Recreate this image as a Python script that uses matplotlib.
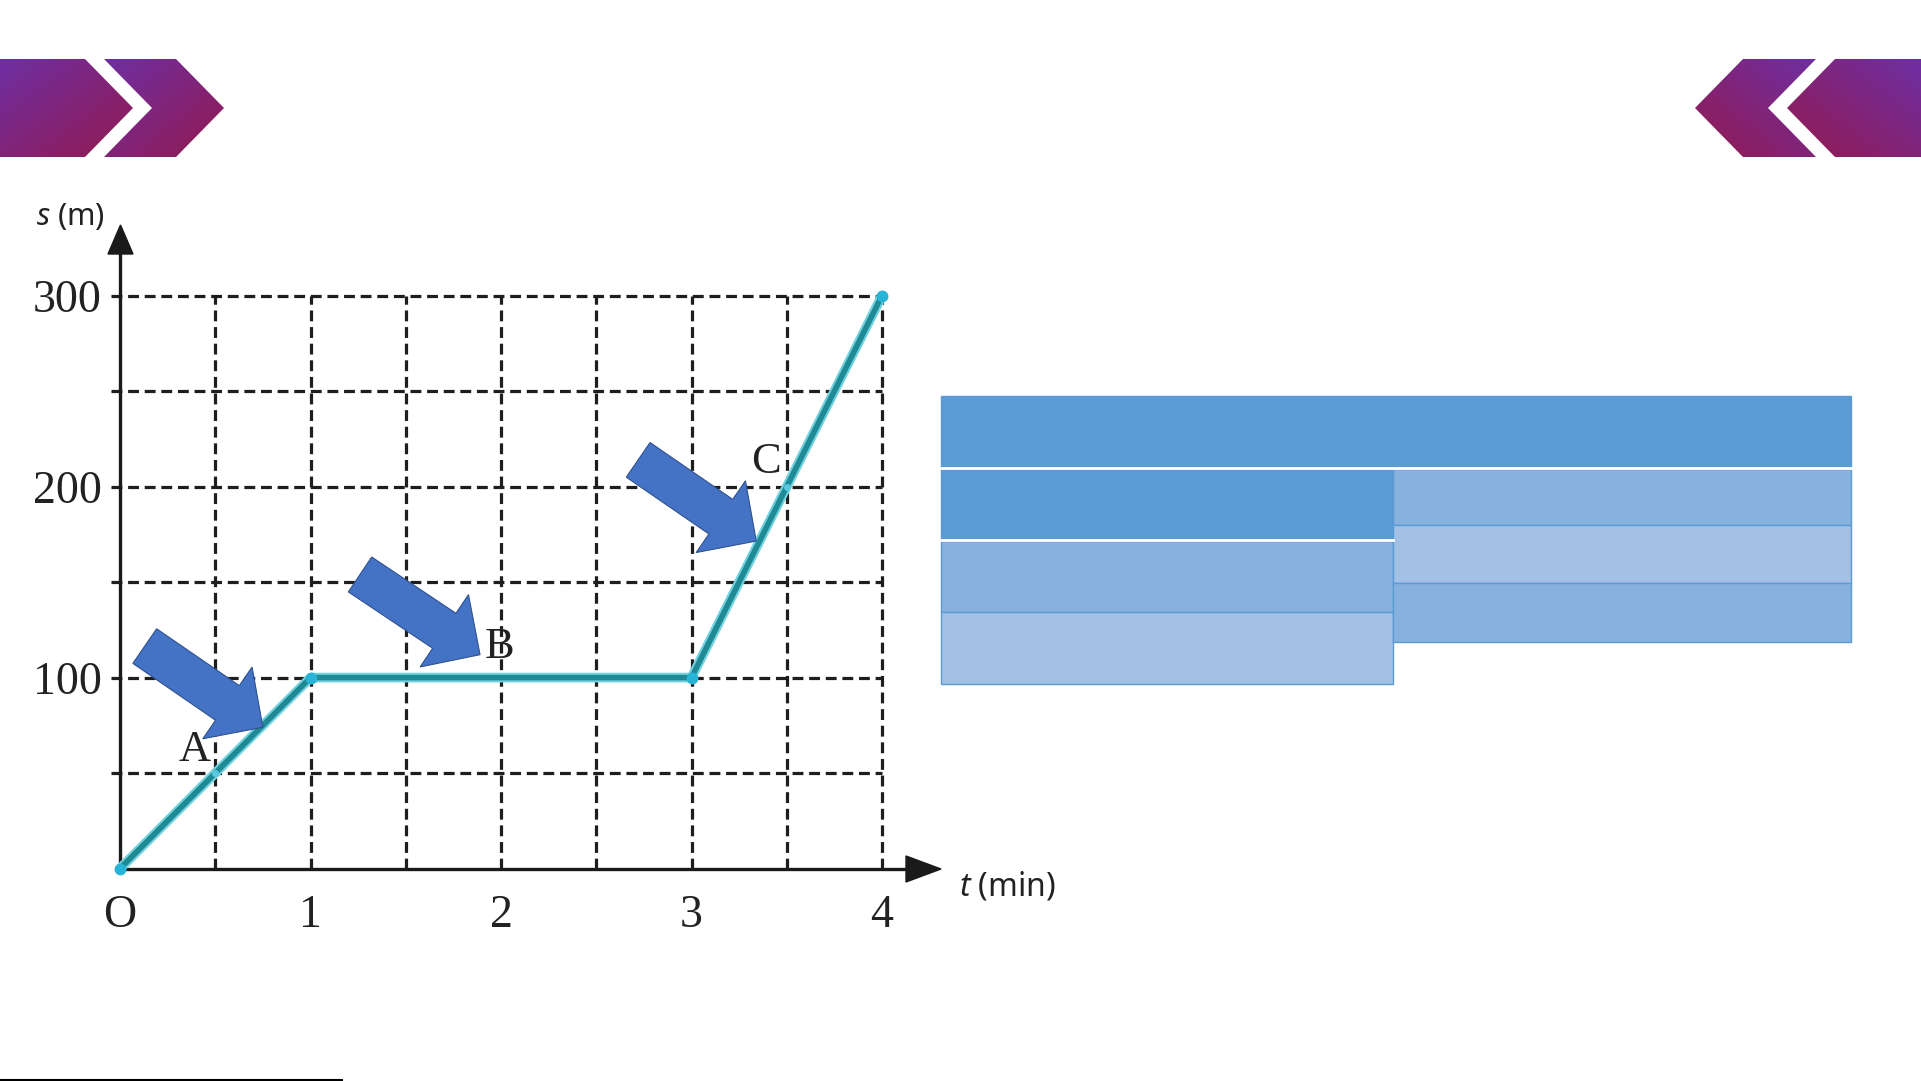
import numpy as np
import matplotlib
matplotlib.use('Agg')
import matplotlib.pyplot as plt
from matplotlib.patches import Polygon, Rectangle
from matplotlib.colors import LinearSegmentedColormap

plt.rcParams['mathtext.fontset'] = 'custom'
plt.rcParams['mathtext.rm'] = 'Noto Sans'
plt.rcParams['mathtext.it'] = 'Noto Sans:italic'

# data of the s-t graph
times = [0, 1, 3, 4]            # min
distances = [0, 100, 100, 300]  # m
marked_t = [0.5, 3.5]
marked_s = [50, 200]
x_ticks = [0, 1, 2, 3, 4]
x_tick_labels = ['O', '1', '2', '3', '4']
y_ticks = [100, 200, 300]
grid_t = [0.5, 1, 1.5, 2, 2.5, 3, 3.5, 4]
grid_s = [50, 100, 150, 200, 250, 300]

# point labels and the block arrows pointing at them (t, s)
point_names = ['A', 'B', 'C']
label_pos = [(0.39, 62), (1.99, 116), (3.39, 213)]
arrow_tail = [(0.13, 116.5), (1.26, 154), (2.72, 214)]
arrow_tip = [(0.75, 74), (1.89, 112), (3.34, 171.5)]

W, H = 1921, 1081
fig = plt.figure(figsize=(W / 100, H / 100), dpi=100)

bg = fig.add_axes([0, 0, 1, 1])
bg.axis('off')
bg.set_autoscale_on(False)
bg.set_xlim(0, W)
bg.set_ylim(H, 0)

# chevrons in the corners
cmap = LinearSegmentedColormap.from_list('chev', ['#6e2fa2', '#931a50'])


def chevron(pts, flip=False):
    poly = Polygon(pts, closed=True, facecolor='none', edgecolor='none')
    bg.add_patch(poly)
    xs = [p[0] for p in pts]
    ys = [p[1] for p in pts]
    gx, gy = np.meshgrid(np.linspace(0, 1, 200), np.linspace(0, 1, 100))
    g = ((1 - gx) + gy) / 2 if flip else (gx + gy) / 2
    im = bg.imshow(g, cmap=cmap, vmin=0, vmax=1, origin='upper', aspect='auto',
                   extent=(min(xs), max(xs), max(ys), min(ys)))
    im.set_clip_path(poly)


chevron([(0, 59), (85, 59), (133, 108), (85, 157), (0, 157)])
chevron([(104, 59), (176, 59), (224, 108), (176, 157), (104, 157), (152, 108)])
chevron([(1695, 108), (1743, 59), (1816, 59), (1768, 108), (1816, 157), (1743, 157)], flip=True)
chevron([(1787, 108), (1835, 59), (1921, 59), (1921, 157), (1835, 157)], flip=True)

# empty table on the right
dark, mid, light = '#5b9bd5', '#87b2dd', '#a3c0e5'
cells = [
    (941, 396, 1851, 467, dark),
    (941, 469, 1393, 539, dark),
    (941, 541, 1393, 612, mid),
    (941, 612, 1393, 684, light),
    (1393, 469, 1851, 525, mid),
    (1393, 525, 1851, 583, light),
    (1393, 583, 1851, 642, mid),
]
for x0, y0, x1, y1, c in cells:
    bg.add_patch(Rectangle((x0, y0), x1 - x0, y1 - y0, facecolor=c,
                           edgecolor=dark, linewidth=1))
bg.plot([941, 1851], [468, 468], color='white', lw=2)
bg.plot([941, 1393], [540, 540], color='white', lw=2)

bg.plot([0, 342], [1079.5, 1079.5], color='black', lw=1.5)

# the graph
X0, Y0 = 120, 868.6
UX, UY = 190.5, 1.91
ax = fig.add_axes([X0 / W, (H - Y0) / H, 4 * UX / W, 300 * UY / H])
ax.patch.set_alpha(0)
for sp in ax.spines.values():
    sp.set_visible(False)

grid_kw = dict(color='#1e1e1e', lw=2.3, linestyle=(0, (3.4, 1.8)), clip_on=False, zorder=1)
for t in grid_t:
    ax.plot([t, t], [0, 300], **grid_kw)
for s in grid_s:
    ax.plot([-0.045, 4], [s, s], **grid_kw)

ax.plot([0, 0], [0, 322], color='#1a1a1a', lw=2.4, clip_on=False, zorder=2)
ax.plot([0, 4.13], [0, 0], color='#1a1a1a', lw=2.4, clip_on=False, zorder=2)

ax.plot(times, distances, color='#74d2df', lw=7, clip_on=False, zorder=3,
        solid_capstyle='round')
ax.plot(times, distances, color='#1d8a95', lw=4, clip_on=False, zorder=4,
        marker='o', ms=7.5, mfc='#27b4d6', mec='#27b4d6')
ax.plot(marked_t, marked_s, 'o', ms=4, color='#5cc8e0', clip_on=False, zorder=5)

for name, (t, s) in zip(point_names, label_pos):
    ax.text(t, s, name, family='Liberation Serif', fontsize=32, color='#222222',
            ha='center', va='center', zorder=6)

ax.set_xlim(0, 4)
ax.set_ylim(0, 300)
ax.set_xticks(x_ticks, x_tick_labels, family='Liberation Serif', fontsize=33, color='#222222')
ax.set_yticks(y_ticks, [str(v) for v in y_ticks], family='Liberation Serif', fontsize=33,
              color='#222222')
ax.tick_params(axis='x', length=0, pad=19)
ax.tick_params(axis='y', length=0, pad=13)

# overlay for axis arrowheads, block arrows and axis titles
top = fig.add_axes([0, 0, 1, 1])
top.axis('off')
top.patch.set_alpha(0)
top.set_autoscale_on(False)
top.set_xlim(0, W)
top.set_ylim(H, 0)

top.add_patch(Polygon([(120.5, 225), (108, 254), (133, 254)], color='#1a1a1a'))
top.add_patch(Polygon([(941, 869), (906, 856), (906, 882)], color='#1a1a1a'))


def to_px(t, s):
    return np.array([X0 + t * UX, Y0 - s * UY])


def block_arrow(tail, tip, w=42, hw=87, hl=43):
    T = to_px(*tail)
    P = to_px(*tip)
    d = (P - T) / np.linalg.norm(P - T)
    n = np.array([-d[1], d[0]])
    B = P - d * hl
    pts = [T + n * w / 2, B + n * w / 2, B + n * hw / 2, P,
           B - n * hw / 2, B - n * w / 2, T - n * w / 2]
    top.add_patch(Polygon(pts, closed=True, facecolor='#4472c4',
                          edgecolor='#2f528f', linewidth=0.8, zorder=5))


for tail, tip in zip(arrow_tail, arrow_tip):
    block_arrow(tail, tip)

top.text(70, 216, r'$s$ (m)', fontsize=22, color='#222222', ha='center', va='center',
         family='Noto Sans')
top.text(1007, 887, r'$t$ (min)', fontsize=23, color='#222222', ha='center', va='center',
         family='Noto Sans')

fig.savefig('out.png', dpi=100)
